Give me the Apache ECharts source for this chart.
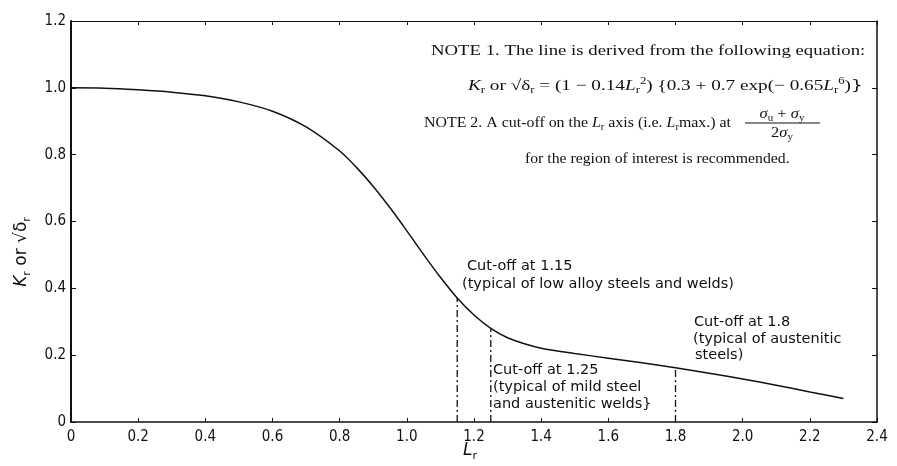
<!DOCTYPE html>
<html>
	<head>
		<meta charset="utf-8">
		<title>Kr - Lr</title>
		<script src="https://cdn.jsdelivr.net/npm/echarts@6/dist/echarts.min.js"></script>
	</head>
	<body style="margin:0;background:#fff;">
		<div id="main" style="width: 897px;height:466px;"></div>
		<script>
		// Lr values and Kr (or sqrt(delta r))
		var lrValues = [0, 0.1, 0.2, 0.3, 0.4, 0.5, 0.6, 0.7, 0.8, 0.85, 0.9, 0.95, 1.0, 1.05, 1.1, 1.15, 1.2, 1.25, 1.3, 1.35, 1.4, 1.5, 1.6, 1.7, 1.8, 1.9, 2.0, 2.1, 2.2, 2.3];
		var krValues = [1.0, 0.999, 0.994, 0.987, 0.976, 0.958, 0.930, 0.883, 0.811, 0.762, 0.705, 0.641, 0.572, 0.501, 0.433, 0.371, 0.320, 0.280, 0.252, 0.234, 0.221, 0.205, 0.191, 0.177, 0.162, 0.146, 0.129, 0.110, 0.090, 0.070];
		// cut-off positions on the Lr axis
		var cutoffs = [1.15, 1.25, 1.8];
		var xTicks = [0, 0.2, 0.4, 0.6, 0.8, 1.0, 1.2, 1.4, 1.6, 1.8, 2.0, 2.2, 2.4];
		var yTicks = [0, 0.2, 0.4, 0.6, 0.8, 1.0, 1.2];

		var curve = [];
		for (var i = 0; i < lrValues.length; i++) {
			curve.push([lrValues[i], krValues[i]]);
		}

		var tickFont = "'DejaVu Sans Condensed', 'DejaVu Sans', sans-serif";
		var sansFont = "'DejaVu Sans', sans-serif";
		var serifFont = "'Liberation Serif', 'DejaVu Serif', serif";

		function tickLabel(v) {
			if (v === 0) return '0';
			return v.toFixed(1);
		}

		var series = [{
			type: 'line',
			data: curve,
			smooth: 0.3,
			symbol: 'none',
			lineStyle: { color: '#111', width: 1.5 },
			z: 5
		}];
		// dash-dot cut-off lines from the axis up to the curve
		for (var c = 0; c < cutoffs.length; c++) {
			var idx = lrValues.indexOf(cutoffs[c]);
			series.push({
				type: 'line',
				data: [[cutoffs[c], 0], [cutoffs[c], krValues[idx]]],
				symbol: 'none',
				lineStyle: { color: '#111', width: 1.3, type: [7, 3, 2, 3] },
				z: 4
			});
		}

		function richSet(font, size, sub) {
			return {
				n: { fontFamily: font, fontSize: size, color: '#111', lineHeight: size + 4, verticalAlign: 'middle' },
				i: { fontFamily: font, fontSize: size, fontStyle: 'italic', color: '#111', lineHeight: size + 4, verticalAlign: 'middle' },
				s: { fontFamily: font, fontSize: sub, color: '#111', lineHeight: sub, verticalAlign: 'bottom' },
				p: { fontFamily: font, fontSize: sub, color: '#111', lineHeight: sub, verticalAlign: 'top' }
			};
		}
		var axisRich = richSet(sansFont, 17, 11);
		var serifRich = richSet(serifFont, 15, 10);

		function txt(x, y, text, opts) {
			opts = opts || {};
			return {
				type: 'text',
				x: x,
				y: y,
				rotation: opts.rotation || 0,
				scaleX: opts.scaleX || 1,
				style: {
					text: text,
					font: opts.font || ('14.5px ' + sansFont),
					fill: '#111',
					rich: opts.rich,
					textAlign: opts.align || 'left',
					textVerticalAlign: 'middle'
				},
				z: 10
			};
		}

		var graphics = [
			// y axis name
			txt(22, 252, '{i|K}{s|r}{n| or √δ}{s|r}', { rich: axisRich, rotation: Math.PI / 2, align: 'center' }),
			// x axis name
			txt(470, 451, '{i|L}{s|r}', { rich: axisRich, align: 'center' }),
			// notes
			txt(431, 51, 'NOTE 1. The line is derived from the following equation:', { font: '15px ' + serifFont, scaleX: 1.25 }),
			txt(468, 86, '{i|K}{s|r}{n| or √δ}{s|r}{n| = (1 − 0.14}{i|L}{s|r}{p|2}{n|) {0.3 + 0.7 exp(− 0.65}{i|L}{s|r}{p|6}{n|)}}', { rich: serifRich, scaleX: 1.28 }),
			txt(424, 123, '{n|NOTE 2. A cut-off on the }{i|L}{s|r}{n| axis (i.e. }{i|L}{s|r}{n|max.) at}', { rich: serifRich, scaleX: 1.06 }),
			txt(782, 114, '{i|σ}{s|u}{n| + }{i|σ}{s|y}', { rich: serifRich, align: 'center', scaleX: 1.1 }),
			{
				type: 'line',
				shape: { x1: 745, y1: 123, x2: 820, y2: 123 },
				style: { stroke: '#111', lineWidth: 1 },
				z: 10
			},
			txt(782, 133, '{n|2}{i|σ}{s|y}', { rich: serifRich, align: 'center', scaleX: 1.1 }),
			txt(525, 159, 'for the region of interest is recommended.', { font: '15px ' + serifFont, scaleX: 1.05 }),
			// cut-off annotations
			txt(467, 266, 'Cut-off at 1.15'),
			txt(462, 284, '(typical of low alloy steels and welds)'),
			txt(694, 322, 'Cut-off at 1.8'),
			txt(693, 339, '(typical of austenitic'),
			txt(695, 355, 'steels)'),
			txt(493, 370, 'Cut-off at 1.25'),
			txt(493, 387, '(typical of mild steel'),
			txt(493, 404, 'and austenitic welds}')
		];

		var chartDom = document.getElementById('main');
		var myChart = echarts.init(chartDom);
		var option = {
			animation: false,
			backgroundColor: '#fff',
			grid: { left: 71, right: 20, top: 21, bottom: 44, show: false },
			xAxis: [{
				type: 'value',
				min: 0,
				max: 2.4,
				interval: 0.2,
				axisLine: { onZero: false, lineStyle: { color: '#111', width: 1.5 } },
				axisTick: { inside: true, length: 4, lineStyle: { color: '#111' } },
				axisLabel: {
					margin: 8,
					color: '#111',
					fontFamily: tickFont,
					fontSize: 15,
					formatter: function (v) { return xTicks.indexOf(+v.toFixed(1)) >= 0 ? tickLabel(v) : ''; }
				},
				splitLine: { show: false }
			}, {
				type: 'value',
				position: 'top',
				min: 0,
				max: 2.4,
				interval: 0.2,
				axisLine: { onZero: false, lineStyle: { color: '#111', width: 1 } },
				axisTick: { inside: true, length: 4, lineStyle: { color: '#111' } },
				axisLabel: { show: false },
				splitLine: { show: false }
			}],
			yAxis: [{
				type: 'value',
				min: 0,
				max: 1.2,
				interval: 0.2,
				axisLine: { show: true, onZero: false, lineStyle: { color: '#111', width: 2 } },
				axisTick: { show: true, inside: true, length: 5, lineStyle: { color: '#111' } },
				axisLabel: {
					margin: 5,
					color: '#111',
					fontFamily: tickFont,
					fontSize: 15,
					formatter: function (v) { return yTicks.indexOf(+v.toFixed(1)) >= 0 ? tickLabel(v) : ''; }
				},
				splitLine: { show: false }
			}, {
				type: 'value',
				position: 'right',
				min: 0,
				max: 1.2,
				interval: 0.2,
				axisLine: { show: true, onZero: false, lineStyle: { color: '#111', width: 1.5 } },
				axisTick: { show: true, inside: true, length: 5, lineStyle: { color: '#111' } },
				axisLabel: { show: false },
				splitLine: { show: false }
			}],
			series: series,
			graphic: graphics
		};
		myChart.setOption(option);
		</script>
	</body>
</html>
